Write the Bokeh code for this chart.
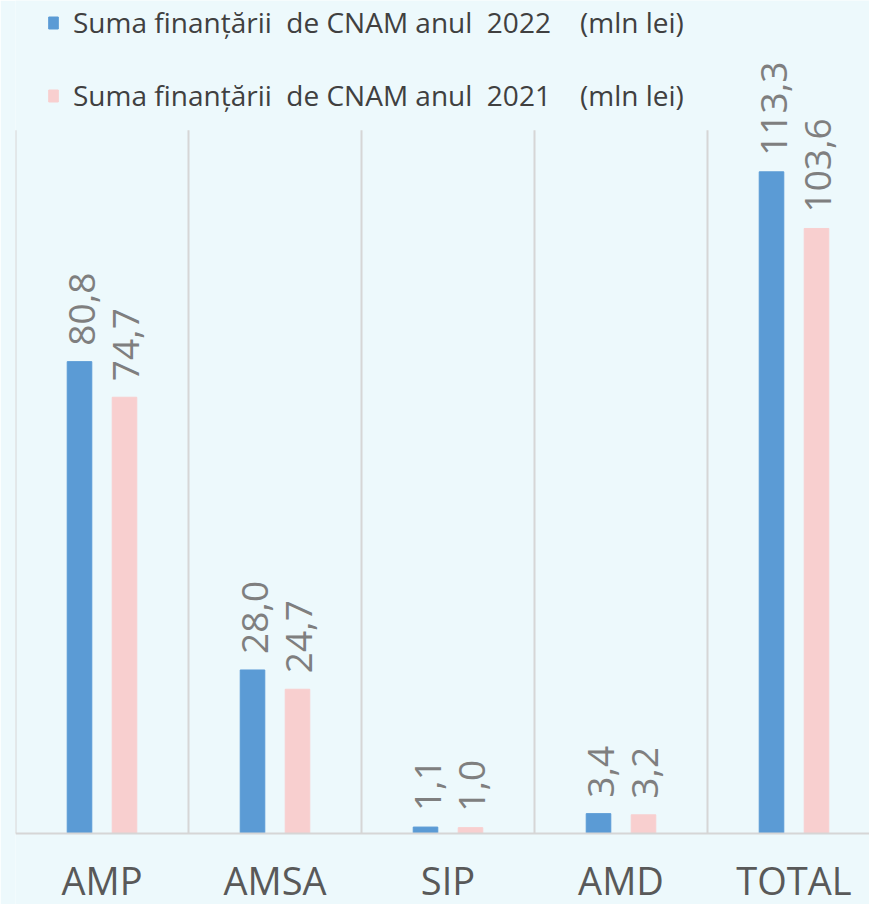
import math
from bokeh.plotting import figure
from bokeh.models import Range1d, Legend, LegendItem, ColumnDataSource, Span
from bokeh.transform import dodge
from bokeh.core.properties import value
from bokeh.embed import file_html
from bokeh.resources import INLINE

categories = ["AMP", "AMSA", "SIP", "AMD", "TOTAL"]
values_2022 = [80.8, 28.0, 1.1, 3.4, 113.3]
values_2021 = [74.7, 24.7, 1.0, 3.2, 103.6]
series_2022 = "Suma finanțării\u00a0\u00a0de CNAM anul\u00a0\u00a02022\u00a0\u00a0\u00a0\u00a0(mln lei)"
series_2021 = "Suma finanțării\u00a0\u00a0de CNAM anul\u00a0\u00a02021\u00a0\u00a0\u00a0\u00a0(mln lei)"

BLUE = "#5b9bd5"
PINK = "#f8cfcf"
BG = "#edf9fc"
GRID = "#d6d6d6"
FONT = "Open Sans"

xs = list(range(len(categories)))


def fmt(v):
    return f"{v:.1f}".replace(".", ",")


src = ColumnDataSource(dict(
    x=xs, base=[0] * len(xs), cat=categories,
    v22=values_2022, v21=values_2021,
    l22=[fmt(v) for v in values_2022], l21=[fmt(v) for v in values_2021],
))
bounds = ColumnDataSource(dict(b=[i - 0.5 for i in xs], y0=[0] * len(xs), y1=[120.4] * len(xs)))

W, H = 869, 904
left = 15
cat_px = 173.0
px_per_unit = 5.84
frame_w = W - left
frame_h = H
zero_px = 833  # pixels from frame top to the zero line

p = figure(width=W, height=H,
           x_range=Range1d(-0.5, -0.5 + frame_w / cat_px),
           y_range=Range1d(-(frame_h - zero_px) / px_per_unit, zero_px / px_per_unit),
           output_backend="svg", toolbar_location=None,
           x_axis_location=None, y_axis_location=None,
           min_border_left=left, min_border_right=0, min_border_top=0, min_border_bottom=0)
p.background_fill_color = BG
p.border_fill_color = BG
p.outline_line_color = None
p.xgrid.visible = False
p.ygrid.visible = False

# category separators and base line
p.segment(x0="b", y0="y0", x1="b", y1="y1", source=bounds, line_color=GRID, line_width=2)
p.add_layout(Span(location=0, dimension="width", line_color=GRID, line_width=2))

r22 = p.vbar(x=dodge("x", -0.13, range=p.x_range), top="v22", bottom="base", width=0.142, source=src,
             fill_color=BLUE, line_color=BLUE)
r21 = p.vbar(x=dodge("x", 0.13, range=p.x_range), top="v21", bottom="base", width=0.142, source=src,
             fill_color=PINK, line_color=PINK)

for key, lab, dx in (("v22", "l22", -0.13), ("v21", "l21", 0.13)):
    p.text(x=dodge("x", dx, range=p.x_range), y=key, text=lab, source=src,
           angle=math.pi / 2, text_align="left", text_baseline="middle",
           x_offset=2, y_offset=-16,
           text_font=value(FONT), text_font_size="37px", text_color="#7f7f7f")

# category labels under the base line
p.text(x="x", y="base", text="cat", source=src,
       text_align="center", text_baseline="alphabetic", y_offset=46,
       text_font=value(FONT), text_font_size="38px", text_color="#595959")

legend = Legend(items=[LegendItem(label=series_2022, renderers=[r22]),
                       LegendItem(label=series_2021, renderers=[r21])],
                location=(32, frame_h - 114), orientation="vertical",
                margin=0, padding=0, spacing=35,
                label_height=29, glyph_width=12, glyph_height=15, label_standoff=14,
                label_text_font=FONT, label_text_font_size="28px", label_text_color="#404040",
                background_fill_alpha=0, border_line_color=None)
p.add_layout(legend, "center")

open("out.html", "w").write(file_html(p, INLINE))
